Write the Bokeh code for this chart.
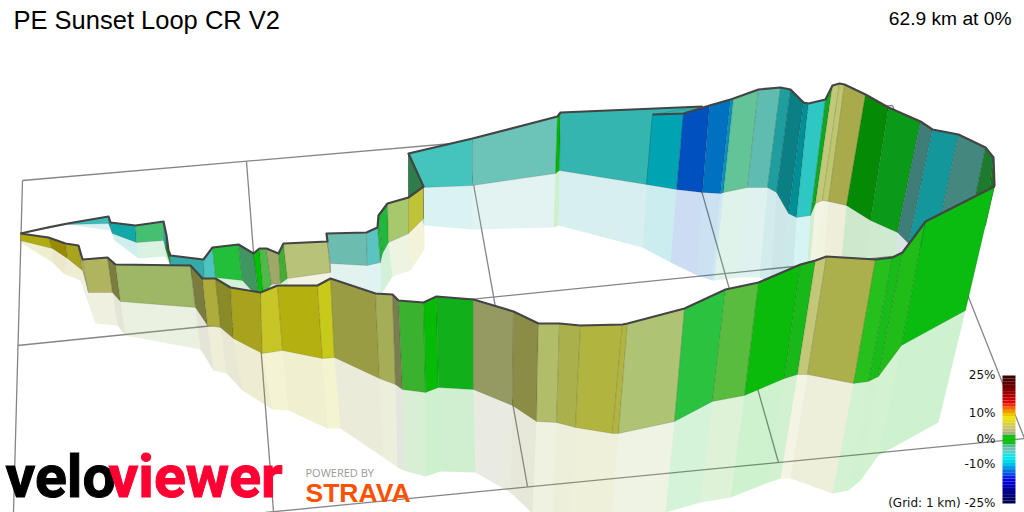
from bokeh.plotting import figure
from bokeh.embed import file_html
from bokeh.resources import INLINE
from bokeh.core.properties import value

TITLE = "PE Sunset Loop CR V2"
SUBTITLE = "62.9 km at 0%"
LEGEND_LABELS = ["25%", "10%", "0%", "-10%", "(Grid: 1 km) -25%"]
LEGEND_Y = [374, 412, 438, 463, 502]
SCALE_COLORS = ["#3a0000","#4a0000","#5a0000","#6e0000","#820000","#960000","#ac0000","#c80000","#e20000",
                "#ee3000","#f06800","#f09800","#f0c400","#f0e400","#e8dc20","#d8d040","#ccc860","#bcbc78","#a8b080",
                "#10c010","#10c010","#10c010","#50c090","#70c0b0","#50d0c8","#20e0e0","#00e8e8","#00d8e8","#00c0e8",
                "#0098e8","#0070e0","#0050e0","#0020e0","#0000e0","#0000cc","#0000b4","#00009c","#000088","#000074","#000060","#000050"]

GRID_X = [[22,892],[892,1024],[1024,265],[22,13],[17,951],[246,273],[467,527],[682,778]]
GRID_Y = [[180,105],[105,438],[438,512],[180,512],[345,250],[161,511],[150,486],[123,462]]

FRONT_TOP_X = [20,48,65,78,82,107,115,190,202,215,230,260,277,317,330,375,392,398,423,436,473,513,538,559,580,622,627,684,725,758,800,815,826,875,892,902,925,994]
FRONT_TOP_Y = [233,237,243,245,259,257,264,265,278,278,287,292,285,285,278,293,294,300,302,296,299,311,323,323,325,324,323,308,289,282,264,260,256,259,257,252,221,186]
FRONT_BASE_X = [20,52,67,82,88,112,120,195,207,220,233,262,282,322,334,379,395,402,425,438,473,512,536,556,575,612,618,674,712,744,784,797,807,853,868,878,901,965]
FRONT_BASE_Y = [240,248,258,270,292,292,301,307,325,327,338,353,350,358,357,378,384,389,392,387,389,405,421,422,427,433,433,421,401,395,378,374,374,383,381,376,345,310]
FRONT_SHADE_X = [20,52,63,80,95,117,125,200,213,226,242,272,288,327,340,383,397,403,425,440,475,510,532,552,570,605,610,665,700,730,768,780,790,832,848,860,878,938]
FRONT_SHADE_Y = [242,262,273,280,323,325,335,349,370,373,390,409,410,428,428,457,467,470,476,471,472,492,513,515,520,530,530,512,502,497,482,478,478,493,490,480,455,422]
FRONT_COLORS = ["#b0ab10","#9a8a00","#a9a41e","#b0b45f","#b0b45f","#7a7d3e","#9db766","#7a7d3e","#aeac3a","#8b8a28","#a8a31c","#c8c626","#b4b010","#c8ca1a","#9a9c44","#a6ad57","#7a7d50","#3ab12f","#05bb05","#10b01a","#949a62","#8b8d46","#b2bd69","#abb14a","#b1b540","#b1b540","#aec373","#2bc240","#5abc3e","#0abb0a","#18b818","#c2c878","#abb04c","#25c01c","#18bc18","#20bc18","#0abc10"]

BACK_TOP_X = [20,47,67,108,110,135,163,166,168,170,203,212,238,253,259,266,278,283,327,326,366,377,378,387,408,423,423,408,408,472,557,560,702,652,683,709,730,733,758,780,790,803,808,825,832,839,844,865,888,920,932,958,985,993,994]
BACK_TOP_Y = [233,227,223,216,222,225,221,235,250,255,259,247,244,253,248,248,253,243,241,233,232,227,215,203,197,186,186,153,153,138,116,112,106,114,113,105,99,98,89,87,89,102,103,99,85,83,84,94,107,121,129,134,147,157,186]
BACK_BASE_X = [20,47,67,108,112,136,163,165,170,170,204,215,242,259,263,271,280,287,330,330,367,380,382,388,408,423,423,408,423,472,555,559,646,646,676,702,720,723,747,767,776,788,796,810,815,822,828,846,870,897,908,933,961,985,994]
BACK_BASE_Y = [233,228,224,223,233,242,240,248,265,275,280,277,280,299,294,284,283,278,272,263,265,262,253,242,233,218,186,197,187,185,173,170,184,184,189,192,193,192,187,187,192,213,217,215,203,200,201,205,220,232,243,250,260,225,186]
BACK_SHADE_X = [20,47,67,110,114,138,165,165,170,170,204,215,245,260,267,274,283,289,332,331,368,380,382,392,410,424,423,408,424,472,553,558,642,642,670,697,712,714,737,759,770,782,792,805,808,815,822,840,865,892,903,933,961,985,994]
BACK_SHADE_Y = [233,228,224,230,240,258,256,256,265,275,285,295,300,315,310,300,300,295,290,285,295,292,292,276,270,249,186,197,225,229,227,225,247,247,262,275,280,280,277,277,282,285,285,290,280,270,270,270,280,290,290,250,260,225,186]
BACK_COLORS = ["#c4c62c","#3cbcb8","#3cbcb8","#10a8a8","#10a8a8","#44c070","#30a8a8","#089008","#089008","#35aaa8","#4cc4c0","#22c03a","#3f9660","#00c000","#52b84a","#a0a868","#44ac34","#b8c278","#b8c278","#6cbcb0","#5cc4c0","#20b83c","#20b83c","#a8c86c","#c0c238","#2f7d4a","#2f7d4a","#2f7d4a","#44c4bc","#6cc4b8","#00b800","#35b5b0","#35b5b0","#00a3b2","#0050c0","#0070c0","#0095c0","#63c498","#5fbcb0","#1e9e9e","#0a8085","#008f97","#2ec8c4","#10a820","#c2c878","#bec66e","#a8aa4c","#058a05","#0b9a18","#3f7d78","#14979b","#44877e","#1e7a2e","#137a10"]
BACK_LINE_GAPS = [32]


def quads(tx, ty, bx, by):
    xs = [[tx[i], tx[i+1], bx[i+1], bx[i]] for i in range(len(tx)-1)]
    ys = [[ty[i], ty[i+1], by[i+1], by[i]] for i in range(len(tx)-1)]
    return xs, ys


def ribbon(p, tx, ty, bx, by, rx, ry, colors):
    xs, ys = quads(bx, by, rx, ry)
    p.patches(xs, ys, fill_color=colors, fill_alpha=0.2, line_color=None)
    xs, ys = quads(tx, ty, bx, by)
    p.patches(xs, ys, fill_color=colors, line_color="black", line_alpha=0.12, line_width=1)


p = figure(width=1024, height=512, x_range=(0, 1024), y_range=(512, 0), output_backend="svg",
           toolbar_location=None, min_border=0, outline_line_color=None,
           background_fill_color="white", border_fill_color="white")
p.axis.visible = False
p.grid.visible = False

p.multi_line(GRID_X, GRID_Y, line_color="#858585", line_width=1.3)

ribbon(p, BACK_TOP_X, BACK_TOP_Y, BACK_BASE_X, BACK_BASE_Y, BACK_SHADE_X, BACK_SHADE_Y, BACK_COLORS)
g = BACK_LINE_GAPS[0]
p.multi_line([BACK_TOP_X[:g+1], BACK_TOP_X[g+1:]], [BACK_TOP_Y[:g+1], BACK_TOP_Y[g+1:]],
             line_color="#444444", line_width=2.2, line_join="round")
ribbon(p, FRONT_TOP_X, FRONT_TOP_Y, FRONT_BASE_X, FRONT_BASE_Y, FRONT_SHADE_X, FRONT_SHADE_Y, FRONT_COLORS)
p.line(FRONT_TOP_X, FRONT_TOP_Y, line_color="#444444", line_width=2.2, line_join="round")

# colour scale
n = len(SCALE_COLORS)
top, bottom = 375, 503
p.quad(left=1002, right=1015,
       top=[top + (bottom-top)*i/n for i in range(n)],
       bottom=[top + (bottom-top)*(i+1)/n for i in range(n)],
       fill_color=SCALE_COLORS, line_color=None)

p.text([995]*len(LEGEND_LABELS), LEGEND_Y, text=LEGEND_LABELS, text_font=value("DejaVu Sans"), text_font_size="12px",
       text_align="right", text_baseline="alphabetic", text_color="#111111")

p.text([13], [19], text=[TITLE], text_font=value("Liberation Sans"), text_font_size="25.5px", text_color="#000000",
       text_baseline="alphabetic")
p.text([1011], [18], text=[SUBTITLE], text_font=value("Liberation Sans"), text_font_size="19.2px", text_color="#000000",
       text_align="right", text_baseline="alphabetic")

# logos
p.text([5], [476], text=["velo"], text_font=value("Roboto"), text_font_style="bold", text_font_size="59px",
       text_color="#000000", text_baseline="alphabetic", outline_color="#000000")
p.text([108], [476], text=["viewer"], text_font=value("Roboto"), text_font_style="bold", text_font_size="59px",
       text_color="#ff0033", text_baseline="alphabetic", outline_color="#ff0033")
p.text([305], [472], text=["POWERED BY"], text_font=value("Open Sans"), text_font_size="11px", text_color="#999999",
       text_baseline="alphabetic")
p.text([305], [492], text=["STRAVA"], text_font=value("Liberation Sans"), text_font_style="bold", text_font_size="26.5px",
       text_color="#fc5200", text_baseline="alphabetic")

open("out.html", "w").write(file_html(p, INLINE))
